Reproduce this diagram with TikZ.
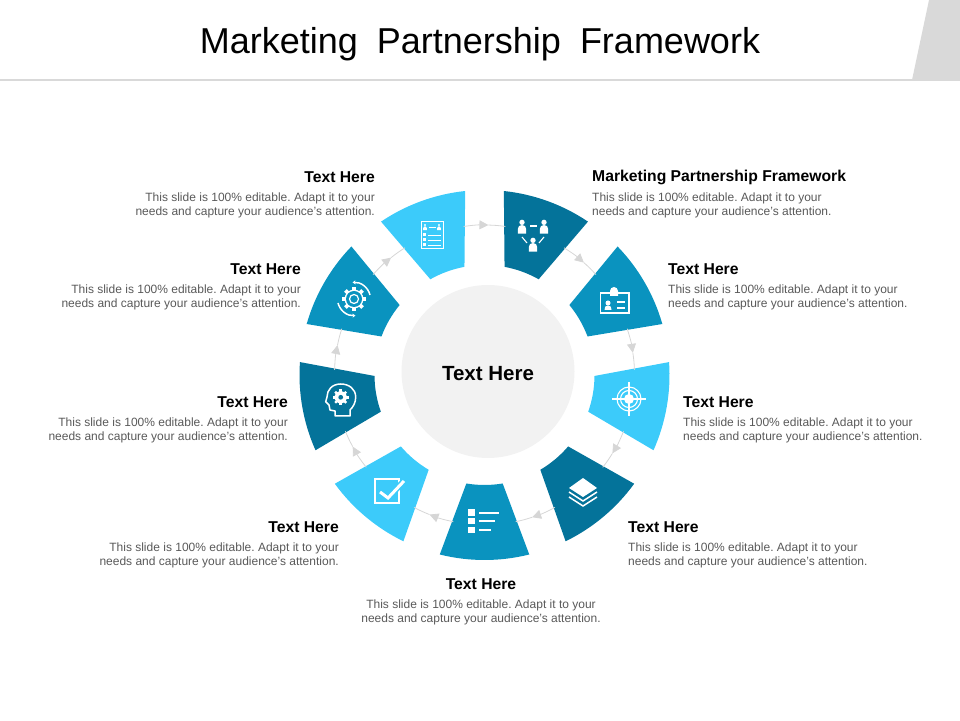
\documentclass[tikz,border=0pt]{standalone}
\usepackage{fontspec}
\setmainfont{Liberation Sans}
\usetikzlibrary{arrows.meta}
\frenchspacing

\definecolor{darkblue}{HTML}{04739A}
\definecolor{midblue}{HTML}{0A93BF}
\definecolor{lightblue}{HTML}{3CCBFA}
\definecolor{ringgray}{HTML}{D6D6D6}
\definecolor{bargray}{HTML}{D9D9D9}
\definecolor{hubgray}{HTML}{F2F2F2}
\definecolor{bodygray}{HTML}{595959}

\tikzset{
  headtext/.style={font=\fontsize{15.7}{18}\selectfont\bfseries, text=black, inner sep=0pt},
  bodytext/.style={font=\fontsize{12}{14}\selectfont, text=bodygray, inner sep=0pt},
  ringline/.style={draw=ringgray, line width=0.8pt},
  ringtip/.style={-{Triangle[length=9pt,width=9pt]}},
  iconline/.style={draw=white, line width=1.5pt},
}

\newcommand{\iconperson}[3]{
  \begin{scope}[shift={(#1,#2)},scale=#3]
    \fill[white] (0,-7) circle [radius=2.8];
    \fill[white] (-4.4,5) -- (-4.4,0) .. controls (-4.4,-2.5) and (-2.5,-4.2) .. (0,-4.2) .. controls (2.5,-4.2) and (4.4,-2.5) .. (4.4,0) -- (4.4,5) -- cycle;
  \end{scope}
}
\newcommand{\icongear}[4]{
  \begin{scope}[shift={(#1,#2)},scale=#3]
    \foreach \t in {0,45,...,315} {
      \fill[white,rotate=\t] (-1.8,0) rectangle (1.8,-11.5);
    }
    \fill[white] (0,0) circle [radius=9];
    \fill[#4] (0,0) circle [radius=3.5];
  \end{scope}
}

\begin{document}
\begin{tikzpicture}[x=1pt,y=1pt]
\useasboundingbox (0,0) rectangle (960,720);

% title bar
\fill[bargray] (929,720) -- (960,720) -- (960,640) -- (912,640) -- cycle;
\fill[bargray] (0,638.5) rectangle (960,641);
\node[inner sep=0pt] (title) at (480,676) {\fontsize{36}{40}\selectfont Marketing\hspace{0.25em} Partnership\hspace{0.25em} Framework};

% hub
\fill[hubgray] (488,348.5) circle [radius=86.5];
\node[font=\fontsize{20.5}{23}\selectfont\bfseries, inner sep=0pt] (hub) at (488,346.5) {Text Here};

% sectors and the ring between them
\begin{scope}[shift={(484.5,345)}]
\foreach \ang/\col in {70/darkblue,30/midblue,-10/lightblue,-50/darkblue,-90/midblue,-130/lightblue,-170/darkblue,150/midblue,110/lightblue} {
  \fill[\col] (\ang-14:185) arc [start angle=\ang-14, end angle=\ang+14, radius=185]
    -- (\ang+9.5:110) arc [start angle=\ang+9.5, end angle=\ang-9.5, radius=110] -- cycle;
}
\foreach \gap [count=\i] in {90,50,10,-30,-70,-110,-150,170,130} {
  \coordinate (from\i) at (\gap+8:150);
  \coordinate (tip\i) at (\gap-1.5:150);
  \coordinate (to\i) at (\gap-8:150);
  \draw[ringline,ringtip] (from\i) to[bend left=4.7] (tip\i);
  \draw[ringline] (tip\i) to[bend left=3.2] (to\i);
}
\end{scope}

% labels
\node[headtext,anchor=west] (head1) at (592,543) {Marketing Partnership Framework};
\node[headtext,anchor=west] (head2) at (668,451) {Text Here};
\node[headtext,anchor=west] (head3) at (683,318) {Text Here};
\node[headtext,anchor=west] (head4) at (628,193) {Text Here};
\node[headtext] (head5) at (481,136) {Text Here};
\node[headtext,anchor=east] (head6) at (339,193) {Text Here};
\node[headtext,anchor=east] (head7) at (288,318) {Text Here};
\node[headtext,anchor=east] (head8) at (301,451) {Text Here};
\node[headtext,anchor=east] (head9) at (375,543) {Text Here};

\foreach \x/\y [count=\i] in {592/515,668/423,683/290,628/165} {
  \node[bodytext,anchor=west,align=left] (body\i) at (\x,\y) {This slide is 100\% editable. Adapt it to your\\needs and capture your audience's attention.};
}
\node[bodytext,align=center] (body5) at (481,108) {This slide is 100\% editable. Adapt it to your\\needs and capture your audience's attention.};
\foreach \x/\y [count=\i from 6] in {339/165,288/290,301/423,375/515} {
  \node[bodytext,anchor=east,align=right] (body\i) at (\x,\y) {This slide is 100\% editable. Adapt it to your\\needs and capture your audience's attention.};
}

% icons, in picture pixels
\begin{scope}[shift={(0,720)},yscale=-1]
% people
\iconperson{522}{229}{0.95}
\iconperson{544}{229}{0.95}
\iconperson{533}{247}{0.95}
\draw[iconline,line width=1.1pt] (530,226) -- (537,226);
\draw[iconline,line width=1.1pt] (522,237) -- (527,243);
\draw[iconline,line width=1.1pt] (544,237) -- (539,243);
% badge
\draw[iconline] (600.5,293) rectangle (629,313);
\fill[white] (610,296) -- (610,291) arc [start angle=180, end angle=360, radius=4] -- (618,296) -- cycle;
\fill[white] (608,303) circle [radius=2.5];
\fill[white] (604.5,310) .. controls (605,306) and (606,305.5) .. (608,305.5) .. controls (610,305.5) and (611,306) .. (611.5,310) -- cycle;
\draw[iconline,line width=1.2pt] (617,302) -- (625,302);
\draw[iconline,line width=1.2pt] (617,308) -- (625,308);
% target
\draw[iconline,line width=1.1pt] (629,399) circle [radius=12];
\draw[iconline,line width=1.1pt] (629,399) circle [radius=8.5];
\fill[white] (629,399) circle [radius=5];
\draw[iconline,line width=1.1pt] (612,399) -- (646,399);
\draw[iconline,line width=1.1pt] (629,382) -- (629,416);
% layers
\fill[white] (569,488) -- (583,478) -- (597,488) -- (583,497) -- cycle;
\draw[iconline] (569,492) -- (583,501) -- (597,492);
\draw[iconline] (569,497) -- (583,506) -- (597,497);
% list
\fill[white] (468,509) rectangle (475,516);
\fill[white] (468,518) rectangle (475,524.5);
\fill[white] (468,527) rectangle (475,533);
\draw[iconline] (479,513) -- (499,513);
\draw[iconline] (479,521) -- (495,521);
\draw[iconline] (479,530) -- (491,530);
% check box
\draw[iconline,line width=2pt] (375,479) rectangle (399,503);
\draw[draw=lightblue,line width=6pt] (380,492) -- (388,498) -- (404,481);
\draw[iconline,line width=3pt] (380,492) -- (388,498) -- (404,481);
% head
\draw[iconline,line join=round] (350,416) -- (350,410) .. controls (353,407) and (355.7,403) .. (355.7,397)
  .. controls (355.7,389) and (349,384) .. (340.7,384) .. controls (332,384) and (327,390) .. (327,397)
  -- (325.7,401.7) -- (329,405) -- (330,410) -- (335,411) -- (335,416) -- cycle;
\icongear{340.7}{397.3}{0.68}{darkblue}
% gear in arrows
\icongear{354}{299}{1.05}{midblue}
\fill[midblue] (354,299) circle [radius=8];
\draw[iconline,line width=1.2pt] (354,299) circle [radius=4.5];
\draw[iconline,line width=1.5pt,-{Stealth[length=3pt,width=4pt]}] (338,303) arc [start angle=166, end angle=85, radius=16.5];
\draw[iconline,line width=1.5pt,-{Stealth[length=3pt,width=4pt]}] (370,295) arc [start angle=-14, end angle=-95, radius=16.5];
% form
\draw[iconline,line width=1pt] (421,222) rectangle (443,249);
\iconperson{425}{228}{0.42}
\iconperson{439}{228}{0.42}
\draw[iconline,line width=0.7pt] (428.5,227) -- (435.5,227);
\foreach \y in {235,240,245} {
  \fill[white] (423,\y-1.5) rectangle (426,\y+1.5);
  \draw[iconline,line width=0.7pt] (428,\y) -- (441,\y);
}
\end{scope}
\end{tikzpicture}
\end{document}
